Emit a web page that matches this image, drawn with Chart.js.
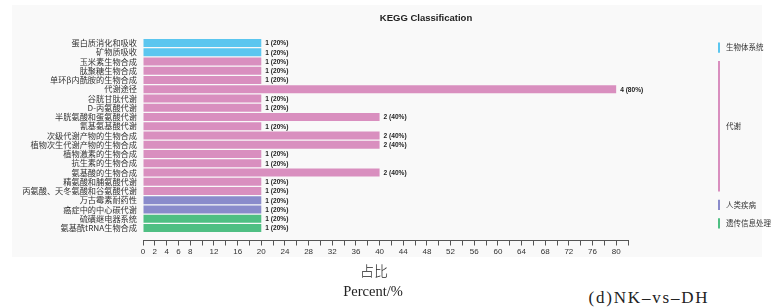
<!DOCTYPE html>
<html>
<head>
<meta charset="utf-8">
<script src="https://cdn.jsdelivr.net/npm/chart.js@4/dist/chart.umd.min.js"></script>
<style>
  html, body { margin: 0; padding: 0; background: #ffffff; }
  #wrap { position: relative; width: 773px; height: 307px; overflow: hidden; }
  #bg { position: absolute; left: 12px; top: 5px; width: 750px; height: 252px; background: #f9f9f9; }
  #c { position: absolute; left: 0; top: 0; }
  .t { position: absolute; white-space: nowrap; line-height: 1; color: #222; transform: translate(-50%, -50%); }
  #title { left: 426px; top: 17px; font: bold 9.5px "Liberation Sans", Arial, sans-serif; }
  #xt1 { left: 374px; top: 270px; font: 14px "Noto Sans CJK SC", sans-serif; font-weight: 300; }
  #xt2 { left: 373px; top: 291px; font: 14.5px "Liberation Serif", serif; }
  #cap { left: 649px; top: 298px; font: 17px "Liberation Serif", serif; letter-spacing: 1.8px; }
</style>
</head>
<body>
<div id="wrap">
  <div id="bg"></div>
  <canvas id="c" width="773" height="262"></canvas>
  <div class="t" id="title">KEGG Classification</div>
  <div class="t" id="xt1">占比</div>
  <div class="t" id="xt2">Percent/%</div>
  <div class="t" id="cap">(d)NK–vs–DH</div>
</div>
<script>
// ---- data ----
const categories = [
  '蛋白质消化和吸收',
  '矿物质吸收',
  '玉米素生物合成',
  '肽聚糖生物合成',
  '单环β内酰胺的生物合成',
  '代谢途径',
  '谷胱甘肽代谢',
  'D-丙氨酸代谢',
  '半胱氨酸和蛋氨酸代谢',
  '氰基氨基酸代谢',
  '次级代谢产物的生物合成',
  '植物次生代谢产物的生物合成',
  '植物激素的生物合成',
  '抗生素的生物合成',
  '氨基酸的生物合成',
  '精氨酸和脯氨酸代谢',
  '丙氨酸、天冬氨酸和谷氨酸代谢',
  '万古霉素耐药性',
  '癌症中的中心碳代谢',
  '硫磺继电器系统',
  '氨基酰tRNA生物合成'
];
const geneCounts = [1, 1, 1, 1, 1, 4, 1, 1, 2, 1, 2, 2, 1, 1, 2, 1, 1, 1, 1, 1, 1];
const percents   = [20, 20, 20, 20, 20, 80, 20, 20, 40, 20, 40, 40, 20, 20, 40, 20, 20, 20, 20, 20, 20];
const groupOfCategory = [0, 0, 1, 1, 1, 1, 1, 1, 1, 1, 1, 1, 1, 1, 1, 1, 1, 2, 2, 3, 3];
const groupNames  = ['生物体系统', '代谢', '人类疾病', '遗传信息处理'];
const groupColors = ['#5bc6ef', '#d98fbf', '#8a8bcb', '#4fbf83'];
const xTickMax = 82;
const xTickStep = 2;

// ---- plugins ----
const valueLabels = {
  id: 'valueLabels',
  afterDatasetsDraw(chart) {
    const ctx = chart.ctx;
    const meta = chart.getDatasetMeta(0);
    ctx.save();
    ctx.font = 'bold 6.6px "Liberation Sans", Arial, sans-serif';
    ctx.fillStyle = '#222';
    ctx.textAlign = 'left';
    ctx.textBaseline = 'middle';
    meta.data.forEach((bar, i) => {
      ctx.fillText(geneCounts[i] + ' (' + percents[i] + '%)', bar.x + 4, bar.y + 0.5);
    });
    ctx.restore();
  }
};

const groupLegend = {
  id: 'groupLegend',
  afterDraw(chart) {
    const ctx = chart.ctx;
    const y = chart.scales.y;
    ctx.save();
    groupNames.forEach((name, g) => {
      const idx = groupOfCategory.map((v, i) => v === g ? i : -1).filter(i => i >= 0);
      const y0 = y.getPixelForValue(idx[0]) - 0.5;
      const y1 = y.getPixelForValue(idx[idx.length - 1]) + 0.5;
      ctx.strokeStyle = groupColors[g];
      ctx.lineWidth = 2;
      ctx.beginPath();
      ctx.moveTo(719, y0);
      ctx.lineTo(719, y1);
      ctx.stroke();
      ctx.fillStyle = '#333';
      ctx.font = '7.5px "Noto Sans CJK SC", sans-serif';
      ctx.textAlign = 'left';
      ctx.textBaseline = 'middle';
      ctx.fillText(name, 726, (y0 + y1) / 2);
    });
    ctx.restore();
  }
};

new Chart(document.getElementById('c'), {
  type: 'bar',
  data: {
    labels: categories,
    datasets: [{
      data: percents,
      backgroundColor: groupOfCategory.map(g => groupColors[g]),
      borderWidth: 0,
      barPercentage: 0.86,
      categoryPercentage: 1.0
    }]
  },
  options: {
    indexAxis: 'y',
    responsive: false,
    animation: false,
    devicePixelRatio: 1,
    layout: { padding: { left: 0, right: 145, top: 38.4, bottom: 29.3 } },
    plugins: { legend: { display: false }, title: { display: false }, tooltip: { enabled: false } },
    scales: {
      y: {
        type: 'category',
        offset: true,
        grid: { display: false, drawTicks: false },
        border: { display: false },
        ticks: {
          autoSkip: false,
          padding: 6,
          color: '#333',
          font: { family: '"Noto Sans CJK SC", sans-serif', size: 8.2 }
        },
        afterFit(scale) { scale.width = 143; }
      },
      x: {
        type: 'linear',
        position: { y: 21.3 },
        min: 0,
        max: xTickMax,
        grid: { drawOnChartArea: false, drawTicks: true, tickLength: 4.5, color: '#555' },
        border: { display: true, color: '#555', width: 1 },
        ticks: {
          stepSize: xTickStep,
          autoSkip: false,
          maxRotation: 0,
          padding: 2,
          color: '#333',
          font: { family: '"Liberation Sans", Arial, sans-serif', size: 8 },
          callback(v) { return (v <= 8 || (v % 4 === 0 && v <= 80)) ? String(v) : ''; }
        }
      }
    }
  },
  plugins: [valueLabels, groupLegend]
});
</script>
</body>
</html>
